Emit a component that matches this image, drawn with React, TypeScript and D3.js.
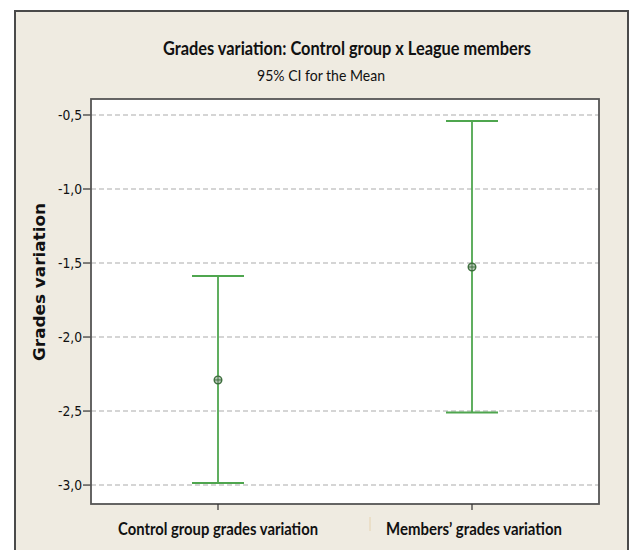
import React from "react";
import * as d3 from "d3";

const categories = ["Control group grades variation", "Members\u2019 grades variation"];
const means = [-2.29, -1.527];
const lowers = [-2.986, -2.51];
const uppers = [-1.588, -0.54];
const yTicks = [-0.5, -1.0, -1.5, -2.0, -2.5, -3.0];
const title = "Grades variation: Control group x League members";
const subtitle = "95% CI for the Mean";
const yLabel = "Grades variation";

export default function App() {
  const W = 632, H = 550;
  const plot = { left: 91, right: 599, top: 99, bottom: 504 };
  const x = d3.scalePoint<string>().domain(categories).range([plot.left, plot.right]).padding(0.5);
  const y = d3.scaleLinear().domain([-3.128, -0.392]).range([plot.bottom, plot.top]);
  const fmt = (v: number) => d3.format(".1f")(v).replace(".", ",").replace("\u2212", "-");
  const green = "#4fa64f";
  const capHalf = 26;
  const xLabelLen = [200, 176];

  return (
    <svg width={W} height={H} style={{ position: "absolute", left: 0, top: 0, background: "#fff" }}>
      <rect x={15} y={11} width={613} height={560} fill="#efebe1" stroke="#4a4a4a" strokeWidth={2} />
      <text x={347} y={55} textAnchor="middle" fontFamily="Lato, 'Open Sans', sans-serif" fontWeight="bold" fontSize={18.5} fill="#111" textLength={368} lengthAdjust="spacingAndGlyphs">{title}</text>
      <text x={321} y={81} textAnchor="middle" fontFamily="Lato, 'Open Sans', sans-serif" fontSize={15} fill="#111" textLength={128} lengthAdjust="spacingAndGlyphs">{subtitle}</text>
      <rect x={plot.left} y={plot.top} width={plot.right - plot.left} height={plot.bottom - plot.top} fill="#fff" />
      {yTicks.map((t) => (
        <g key={t}>
          <line x1={plot.left} x2={plot.right} y1={y(t)} y2={y(t)} stroke="#c8c8c8" strokeWidth={1.5} strokeDasharray="5,3" />
          <line x1={plot.left - 8} x2={plot.left} y1={y(t)} y2={y(t)} stroke="#333" strokeWidth={1.2} />
          <text x={plot.left - 9} y={y(t)} dy="0.36em" textAnchor="end" fontFamily="'DejaVu Sans', sans-serif" fontSize={14.5} fill="#111" textLength={24} lengthAdjust="spacingAndGlyphs">{fmt(t)}</text>
        </g>
      ))}
      <rect x={plot.left} y={plot.top} width={plot.right - plot.left} height={plot.bottom - plot.top} fill="none" stroke="#555" strokeWidth={1.8} />
      {categories.map((c, i) => {
        const cx = x(c)!;
        return (
          <g key={c}>
            <line x1={cx} x2={cx} y1={plot.bottom} y2={plot.bottom + 6} stroke="#333" strokeWidth={1.2} />
            <text x={cx + (i === 1 ? 2 : 0)} y={535} textAnchor="middle" fontFamily="Lato, 'Open Sans', sans-serif" fontWeight="bold" fontSize={16.5} fill="#111" textLength={xLabelLen[i]} lengthAdjust="spacingAndGlyphs">{c}</text>
            <line x1={cx} x2={cx} y1={y(uppers[i])} y2={y(lowers[i])} stroke={green} strokeWidth={1.8} />
            <line x1={cx - capHalf} x2={cx + capHalf} y1={y(uppers[i])} y2={y(uppers[i])} stroke={green} strokeWidth={2} />
            <line x1={cx - capHalf} x2={cx + capHalf} y1={y(lowers[i])} y2={y(lowers[i])} stroke={green} strokeWidth={2} />
            <circle cx={cx} cy={y(means[i])} r={3.8} fill="#b9c9b9" stroke="#3d6e3d" strokeWidth={1.4} />
            <line x1={cx - 3.8} x2={cx + 3.8} y1={y(means[i])} y2={y(means[i])} stroke="#3d6e3d" strokeWidth={1} />
            <line x1={cx} x2={cx} y1={y(means[i]) - 3.8} y2={y(means[i]) + 3.8} stroke="#3d6e3d" strokeWidth={1} />
          </g>
        );
      })}
      <line x1={370} x2={370} y1={517} y2={531} stroke="#e6d3b0" strokeWidth={1} />
      <text transform={`translate(45,282) rotate(-90)`} textAnchor="middle" fontFamily="'DejaVu Sans', Verdana, sans-serif" fontWeight="bold" fontSize={15} fill="#111" textLength={158} lengthAdjust="spacingAndGlyphs">{yLabel}</text>
    </svg>
  );
}
